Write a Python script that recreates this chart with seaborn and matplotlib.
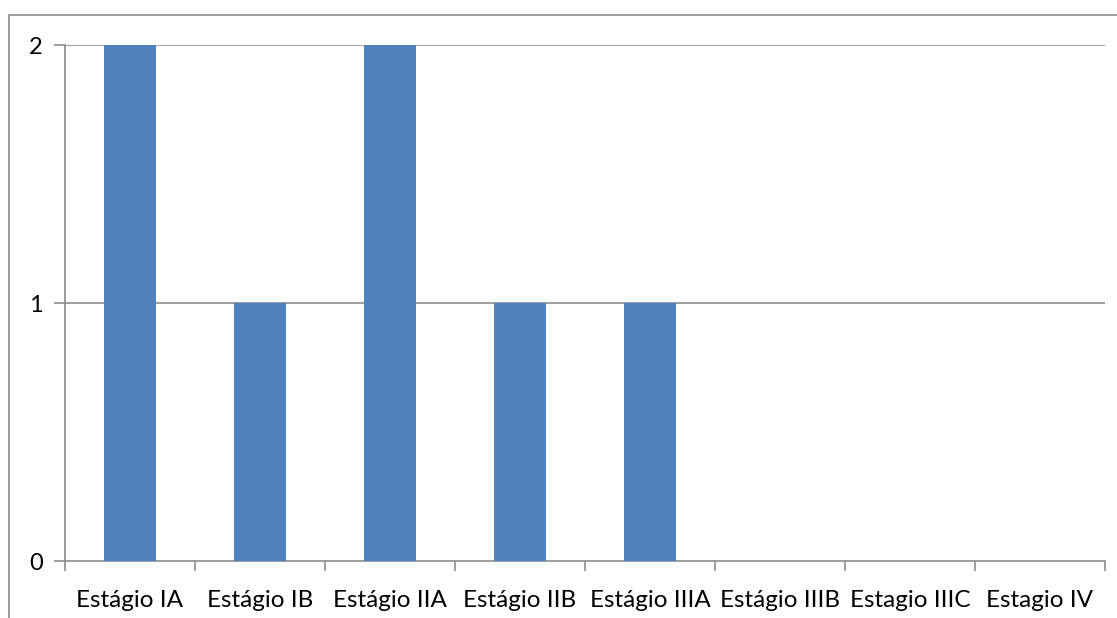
import matplotlib
matplotlib.use("Agg")
import matplotlib.pyplot as plt
import seaborn as sns
import pandas as pd
from matplotlib.patches import Rectangle

categories = ["Estágio IA", "Estágio IB", "Estágio IIA", "Estágio IIB",
              "Estágio IIIA", "Estágio IIIB", "Estagio IIIC", "Estagio IV"]
values = [2, 1, 2, 1, 1, 0, 0, 0]
yticks = [0, 1, 2]

sns.set_theme(style="white")
plt.rcParams['font.family'] = ['Lato', 'DejaVu Sans']

df = pd.DataFrame({"cat": categories, "val": values})

W, H = 1117, 618
fig = plt.figure(figsize=(W / 100, H / 100), dpi=100)
ax = fig.add_axes([65 / W, 1 - 561 / H, (1105 - 65) / W, (561 - 45) / H])

sns.barplot(data=df, x="cat", y="val", color="#4F81BD", saturation=1,
            width=0.4, ax=ax, zorder=3, linewidth=0)

grid_c = "#8C8C8C"
ax.set_ylim(0, 2)
ax.set_xlim(-0.5, len(categories) - 0.5)
ax.set_yticks(yticks)
ax.set_yticklabels([str(v) for v in yticks], fontsize=17, color="black")
for y in yticks[1:]:
    ax.axhline(y, color=grid_c, lw=1.2, zorder=1)

ax.set_xticks(range(len(categories)))
ax.set_xticklabels(categories, fontsize=17.5, color="black")
ax.tick_params(axis="x", which="major", length=0, pad=21)
ax.set_xticks([i - 0.5 for i in range(len(categories) + 1)], minor=True)
ax.tick_params(axis="x", which="minor", bottom=True, length=7, width=1.2,
               color=grid_c, direction="out")
ax.tick_params(axis="y", left=True, length=8, width=1.2, color=grid_c,
               direction="out", pad=13)
for lab in ax.get_yticklabels():
    lab.set_horizontalalignment("center")

ax.set_xlabel("")
ax.set_ylabel("")
for s in ["top", "right"]:
    ax.spines[s].set_visible(False)
for s in ["left", "bottom"]:
    ax.spines[s].set_color(grid_c)
    ax.spines[s].set_linewidth(1.2)

border = Rectangle((9.5 / W, -0.1), 1.2, 1 - 15.5 / H + 0.1, transform=fig.transFigure,
                   fill=False, edgecolor="#8C8C8C", lw=1.2, clip_on=False)
fig.patches.append(border)

fig.savefig("out.png", dpi=100, facecolor="white")
